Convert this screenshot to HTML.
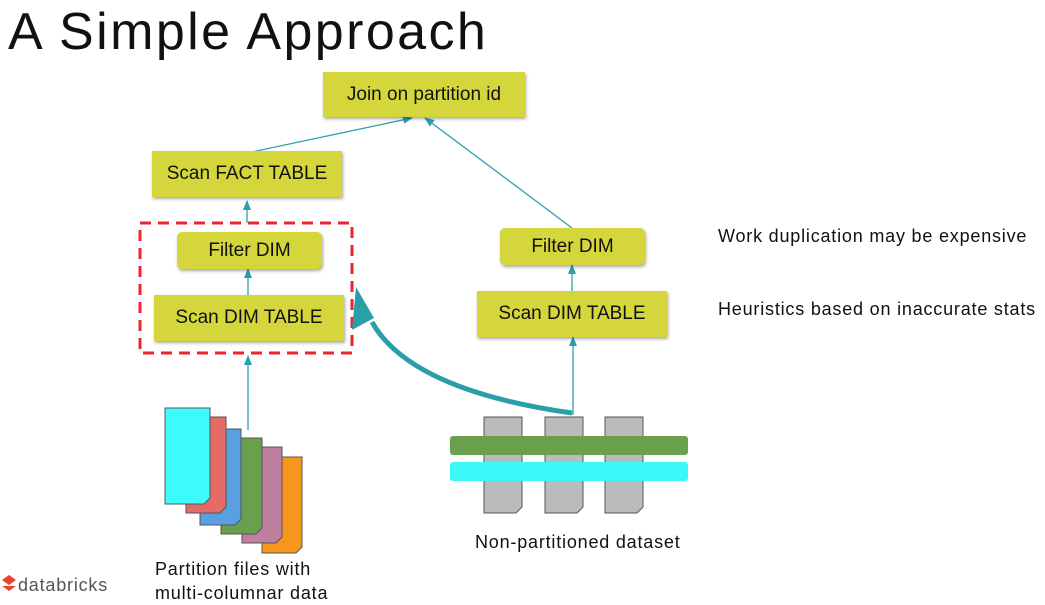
<!DOCTYPE html>
<html><head><meta charset="utf-8"><style>
body{margin:0;width:1045px;height:605px;background:#fff;overflow:hidden;position:relative;font-family:"Liberation Sans",sans-serif}
.t{position:absolute;white-space:nowrap;color:#111;letter-spacing:0.8px}
.b{position:absolute;background:#d5d63c;box-shadow:1px 2px 3px rgba(0,0,0,.35);display:flex;align-items:center;justify-content:center;font-size:19px;color:#111}
</style></head><body>
<div class="t" style="left:8px;top:2px;font-size:52px;color:#111;letter-spacing:2.4px">A Simple Approach</div>
<svg style="position:absolute;left:0;top:0" width="1045" height="605">
<defs><marker id="a" markerWidth="10" markerHeight="8" refX="9" refY="4" orient="auto" markerUnits="userSpaceOnUse"><path d="M0,0L10,4L0,8z" fill="#2aa0ae"/></marker></defs>
<g stroke="#2aa0ae" stroke-width="1.3" fill="none">
<line x1="247" y1="153" x2="412" y2="118" marker-end="url(#a)"/>
<line x1="572" y1="228" x2="425" y2="118" marker-end="url(#a)"/>
<line x1="247" y1="223" x2="247" y2="201" marker-end="url(#a)"/>
<line x1="248" y1="295" x2="248" y2="269" marker-end="url(#a)"/>
<line x1="572" y1="291" x2="572" y2="265" marker-end="url(#a)"/>
<line x1="248" y1="430" x2="248" y2="356" marker-end="url(#a)"/>
<line x1="573" y1="415" x2="573" y2="337" marker-end="url(#a)"/>
</g>
<rect x="140" y="223" width="212" height="130" fill="none" stroke="#e8262d" stroke-width="3" stroke-dasharray="11,7"/>
<path d="M572 413 Q410 390 372 322" stroke="#2a9fa8" stroke-width="5" fill="none"/>
<path d="M356 287 L352 330 L374 318 z" fill="#2a9fa8"/>
<g stroke="#555" stroke-width="1">
<path d="M262 457h40v90l-6 6h-34z" fill="#f7961e"/>
<path d="M242 447h40v90l-6 6h-34z" fill="#bf7f9e"/>
<path d="M221 438h41v90l-6 6h-35z" fill="#68a04e"/>
<path d="M200 429h41v90l-6 6h-35z" fill="#5a9fe0"/>
<path d="M186 417h40v90l-6 6h-34z" fill="#e66a66"/>
<path d="M165 408h45v90l-6 6h-39z" fill="#3dfbfb"/>
<path d="M484 417h38v90l-6 6h-32z" fill="#bbb"/>
<path d="M545 417h38v90l-6 6h-32z" fill="#bbb"/>
<path d="M605 417h38v90l-6 6h-32z" fill="#bbb"/>
</g>
<rect x="450" y="436" width="238" height="19" rx="3" fill="#68a04e"/>
<rect x="450" y="462" width="238" height="19" rx="3" fill="#3cf8f8"/>
<path d="M2 580l7-5 7 5-7 5zM2 586l7 5 7-5" fill="#e8432e"/>
</svg>
<div class="b" style="left:323px;top:72px;width:202px;height:45px">Join on partition id</div>
<div class="b" style="left:152px;top:151px;width:190px;height:46px">Scan FACT TABLE</div>
<div class="b" style="left:177px;top:232px;width:145px;height:37px;border-radius:5px">Filter DIM</div>
<div class="b" style="left:154px;top:295px;width:190px;height:46px">Scan DIM TABLE</div>
<div class="b" style="left:500px;top:228px;width:145px;height:37px;border-radius:5px">Filter DIM</div>
<div class="b" style="left:477px;top:291px;width:190px;height:46px">Scan DIM TABLE</div>
<div class="t" style="left:718px;top:226px;font-size:18px">Work duplication may be expensive</div>
<div class="t" style="left:718px;top:299px;font-size:18px">Heuristics based on inaccurate stats</div>
<div class="t" style="left:475px;top:532px;font-size:18px">Non-partitioned dataset</div>
<div class="t" style="left:155px;top:557px;font-size:18px;line-height:24px">Partition files with<br>multi-columnar data</div>
<div class="t" style="left:18px;top:575px;font-size:18px;color:#555">databricks</div>
</body></html>
